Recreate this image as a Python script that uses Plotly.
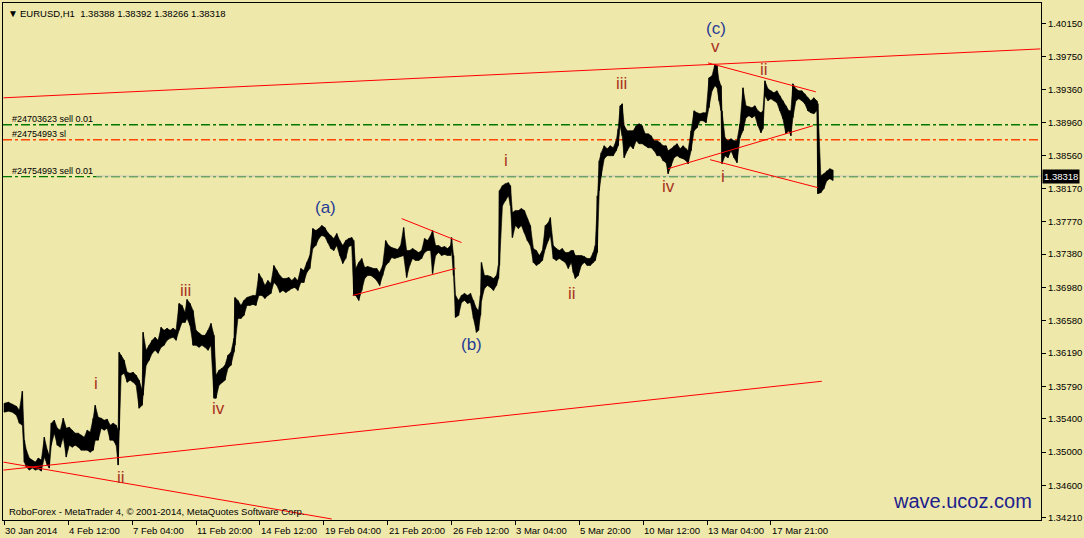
import plotly.graph_objects as go

# ---------------- data ----------------
bar_index = [
    0, 4, 8, 12, 15, 18, 20, 22, 25, 28,
    31, 34, 37, 40, 43, 45, 47, 50, 53, 56,
    59, 62, 65, 68, 71, 74, 77, 80, 83, 86,
    89, 91, 94, 97, 100, 103, 106, 109, 112, 114,
    115, 117, 120, 123, 126, 129, 132, 135, 138, 139,
    142, 145, 148, 151, 154, 157, 160, 163, 166, 169,
    172, 175, 178, 181, 183, 186, 189, 192, 195, 198,
    201, 204, 207, 210, 212, 215, 218, 221, 224, 227,
    230, 231, 234, 237, 240, 243, 246, 249, 252, 255,
    258, 261, 264, 267, 270, 273, 276, 279, 282, 285,
    288, 291, 294, 297, 300, 303, 306, 309, 312, 315,
    318, 321, 324, 327, 330, 333, 336, 339, 342, 345,
    348, 350, 352, 355, 358, 361, 364, 367, 370, 373,
    376, 379, 382, 385, 388, 391, 394, 397, 400, 403,
    406, 409, 412, 415, 418, 421, 424, 427, 429, 432,
    435, 438, 441, 444, 447, 448, 450, 452, 455, 458,
    461, 464, 467, 470, 473, 475, 477, 478, 481, 484,
    487, 490, 493, 495, 496, 499, 502, 505, 507, 509,
    512, 515, 518, 521, 524, 527, 530, 533, 536, 539,
    542, 545, 547, 550, 553, 556, 559, 562, 565, 568,
    570, 572, 575, 578, 581, 584, 587, 590, 592, 594,
    596, 598, 601, 604, 607, 610, 613, 615, 617, 619,
    621, 624, 627, 630, 633, 636, 639, 642, 645, 648,
    651, 654, 657, 660, 663, 665, 668, 671, 674, 677,
    680, 683, 685, 688, 691, 694, 697, 700, 703, 706,
    709, 712, 714, 716, 718, 719, 722, 725, 728, 731,
    734, 737, 740, 743, 746, 749, 752, 755, 758, 760,
    762, 765, 768, 771, 774, 777, 780, 783, 786, 788,
    790, 793, 796, 799, 802, 805, 808, 811, 814, 815,
    818, 821, 824, 827, 830,
]

high = [
    1.35587, 1.35599, 1.35575, 1.35551, 1.35503, 1.35731, 1.35143, 1.35023, 1.34927, 1.34903,
    1.34879, 1.34927, 1.34903, 1.35179, 1.35023, 1.34963, 1.35347, 1.35383, 1.35287, 1.35263,
    1.35407, 1.35287, 1.35299, 1.35263, 1.35227, 1.35227, 1.35203, 1.35179, 1.35263, 1.35239,
    1.35407, 1.35563, 1.35419, 1.35407, 1.35383, 1.35395, 1.35323, 1.35347, 1.35323, 1.35263,
    1.36199, 1.36163, 1.36103, 1.35959, 1.35947, 1.35959, 1.35923, 1.35863, 1.35743, 1.36439,
    1.36223, 1.36283, 1.36343, 1.36379, 1.36343, 1.36499, 1.36463, 1.36487, 1.36463, 1.36487,
    1.36463, 1.36787, 1.36763, 1.36679, 1.36835, 1.36787, 1.36703, 1.36463, 1.36427, 1.36403,
    1.36403, 1.36463, 1.36547, 1.36403, 1.35923, 1.35983, 1.36007, 1.36043, 1.36163, 1.36199,
    1.36367, 1.36859, 1.36823, 1.36763, 1.36823, 1.36859, 1.36871, 1.36883, 1.36883, 1.37147,
    1.37087, 1.37003, 1.37063, 1.37027, 1.37243, 1.37183, 1.37123, 1.37087, 1.37087, 1.37099,
    1.37063, 1.37099, 1.37063, 1.37207, 1.37183, 1.37279, 1.37363, 1.37687, 1.37663, 1.37687,
    1.37723, 1.37699, 1.37639, 1.37603, 1.37567, 1.37627, 1.37543, 1.37483, 1.37543, 1.37567,
    1.37579, 1.37543, 1.37207, 1.37279, 1.37327, 1.37219, 1.37231, 1.37219, 1.37207, 1.37207,
    1.37159, 1.37243, 1.37543, 1.37483, 1.37459, 1.37447, 1.37435, 1.37483, 1.37699, 1.37423,
    1.37423, 1.37447, 1.37423, 1.37399, 1.37423, 1.37567, 1.37543, 1.37603, 1.37663, 1.37483,
    1.37483, 1.37459, 1.37471, 1.37447, 1.37483, 1.37579, 1.37363, 1.36883, 1.36823, 1.36883,
    1.36907, 1.36883, 1.36907, 1.36823, 1.36727, 1.36703, 1.36883, 1.37279, 1.37123, 1.37123,
    1.37111, 1.37087, 1.37123, 1.37243, 1.38143, 1.38203, 1.38227, 1.38239, 1.38203, 1.37879,
    1.37903, 1.37903, 1.37927, 1.37903, 1.37807, 1.37723, 1.37447, 1.37423, 1.37363, 1.37423,
    1.37723, 1.37759, 1.37819, 1.37483, 1.37447, 1.37423, 1.37447, 1.37399, 1.37399, 1.37423,
    1.37423, 1.37363, 1.37363, 1.37363, 1.37351, 1.37327, 1.37327, 1.37399, 1.37483, 1.38083,
    1.38503, 1.38599, 1.38683, 1.38647, 1.38683, 1.38659, 1.38743, 1.38887, 1.39163, 1.39187,
    1.38923, 1.38863, 1.38863, 1.38863, 1.38923, 1.38947, 1.38923, 1.38827, 1.38827, 1.38803,
    1.38743, 1.38743, 1.38719, 1.38683, 1.38683, 1.38623, 1.38647, 1.38683, 1.38707, 1.38647,
    1.38683, 1.38647, 1.38623, 1.38863, 1.39103, 1.39079, 1.39067, 1.39079, 1.39079, 1.39499,
    1.39523, 1.39667, 1.39643, 1.39463, 1.39403, 1.39103, 1.38779, 1.38743, 1.38767, 1.38743,
    1.38743, 1.38947, 1.39379, 1.39163, 1.39151, 1.39139, 1.39163, 1.39103, 1.39079, 1.39103,
    1.39463, 1.39367, 1.39343, 1.39319, 1.39343, 1.39283, 1.39223, 1.39163, 1.39103, 1.39103,
    1.39427, 1.39367, 1.39343, 1.39343, 1.39307, 1.39259, 1.39223, 1.39259, 1.39223, 1.39187,
    1.38323, 1.38347, 1.38383, 1.38407, 1.38392,
]

low = [
    1.35479, 1.35491, 1.35479, 1.35443, 1.35347, 1.35323, 1.34879, 1.34819, 1.34783, 1.34807,
    1.34783, 1.34795, 1.34771, 1.34939, 1.34843, 1.34807, 1.35083, 1.35227, 1.35083, 1.35059,
    1.35179, 1.34939, 1.35083, 1.35059, 1.35083, 1.35059, 1.35023, 1.35023, 1.35023, 1.34999,
    1.35023, 1.35143, 1.35143, 1.35287, 1.35263, 1.35287, 1.35143, 1.35143, 1.35083, 1.34843,
    1.35263, 1.35923, 1.35947, 1.35839, 1.35863, 1.35839, 1.35803, 1.35527, 1.35563, 1.35683,
    1.36043, 1.36103, 1.36187, 1.36223, 1.36187, 1.36259, 1.36283, 1.36343, 1.36367, 1.36379,
    1.36343, 1.36463, 1.36559, 1.36559, 1.36607, 1.36523, 1.36283, 1.36283, 1.36259, 1.36283,
    1.36259, 1.36223, 1.36283, 1.35647, 1.35647, 1.35803, 1.35839, 1.35863, 1.36007, 1.36043,
    1.36199, 1.36283, 1.36607, 1.36607, 1.36643, 1.36763, 1.36763, 1.36775, 1.36763, 1.36883,
    1.36883, 1.36847, 1.36883, 1.36907, 1.37039, 1.37003, 1.36919, 1.36943, 1.36919, 1.36943,
    1.36967, 1.36979, 1.36943, 1.37039, 1.37039, 1.37159, 1.37207, 1.37447, 1.37483, 1.37567,
    1.37603, 1.37591, 1.37519, 1.37447, 1.37423, 1.37483, 1.37363, 1.37267, 1.37327, 1.37471,
    1.37483, 1.36883, 1.36883, 1.36823, 1.36943, 1.37087, 1.37123, 1.37123, 1.37099, 1.37063,
    1.37003, 1.37123, 1.37243, 1.37279, 1.37339, 1.37327, 1.37339, 1.37351, 1.37363, 1.37099,
    1.37243, 1.37327, 1.37303, 1.37303, 1.37327, 1.37399, 1.37423, 1.37423, 1.37147, 1.37363,
    1.37399, 1.37363, 1.37375, 1.37363, 1.37363, 1.37423, 1.37123, 1.36619, 1.36643, 1.36799,
    1.36823, 1.36787, 1.36799, 1.36607, 1.36439, 1.36463, 1.36643, 1.36823, 1.36967, 1.37003,
    1.36979, 1.36943, 1.37003, 1.37087, 1.37243, 1.37963, 1.38023, 1.38083, 1.37963, 1.37579,
    1.37723, 1.37687, 1.37723, 1.37639, 1.37543, 1.37483, 1.37279, 1.37243, 1.37267, 1.37303,
    1.37447, 1.37543, 1.37603, 1.37327, 1.37303, 1.37327, 1.37303, 1.37279, 1.37207, 1.37279,
    1.37159, 1.37087, 1.37123, 1.37243, 1.37279, 1.37243, 1.37243, 1.37279, 1.37303, 1.37399,
    1.38143, 1.38323, 1.38527, 1.38563, 1.38563, 1.38563, 1.38623, 1.38683, 1.38923, 1.38803,
    1.38539, 1.38623, 1.38683, 1.38647, 1.38743, 1.38707, 1.38707, 1.38683, 1.38659, 1.38659,
    1.38623, 1.38563, 1.38563, 1.38503, 1.38479, 1.38347, 1.38443, 1.38539, 1.38563, 1.38539,
    1.38527, 1.38503, 1.38467, 1.38623, 1.38863, 1.38899, 1.38983, 1.38983, 1.38959, 1.39139,
    1.39343, 1.39403, 1.39379, 1.39223, 1.39103, 1.38467, 1.38563, 1.38539, 1.38623, 1.38539,
    1.38479, 1.38779, 1.38863, 1.39019, 1.39043, 1.39019, 1.39043, 1.38923, 1.38839, 1.38887,
    1.39283, 1.39223, 1.39247, 1.39223, 1.39199, 1.39103, 1.39007, 1.38827, 1.38863, 1.38803,
    1.39019, 1.39223, 1.39247, 1.39223, 1.39187, 1.39103, 1.39079, 1.39067, 1.39103, 1.38107,
    1.38119, 1.38167, 1.38263, 1.38287, 1.38266,
]

assert len(bar_index) == len(high) == len(low), (len(bar_index), len(high), len(low))

x_tick_index = [0, 64, 128, 192, 256, 320, 384, 448, 512, 576, 640, 704, 768]
x_tick_labels = ["30 Jan 2014", "4 Feb 12:00", "7 Feb 04:00", "11 Feb 20:00",
                 "14 Feb 12:00", "19 Feb 04:00", "21 Feb 20:00", "26 Feb 12:00",
                 "3 Mar 04:00", "5 Mar 20:00", "10 Mar 12:00", "13 Mar 04:00",
                 "17 Mar 21:00"]

y_tick_values = [1.40150, 1.39750, 1.39360, 1.38960, 1.38560, 1.38170, 1.37770,
                 1.37380, 1.36980, 1.36580, 1.36190, 1.35790, 1.35400, 1.35000,
                 1.34600, 1.34210]

# trend lines: (start bar, start price, end bar, end price)
trend_lines = [
    (-1, 1.39259, 1038, 1.39847),
    (-1, 1.34783, 819, 1.35851),
    (-1, 1.34879, 328, 1.34195),
    (398, 1.37807, 458, 1.37519),
    (349, 1.36883, 452, 1.37207),
    (705, 1.39679, 813, 1.39331),
    (665, 1.38407, 810, 1.38923),
    (707, 1.38515, 815, 1.38179),
]

# wave labels
wave_text = ["i", "ii", "iii", "iv", "(a)", "(b)", "i", "ii", "iii", "iv", "v", "(c)", "ii", "i"]
wave_bar = [92, 117, 181, 215, 322, 468, 503, 569, 618, 665, 712, 713, 761, 720]
wave_price = [1.35827, 1.34699, 1.36943, 1.35527, 1.37939, 1.36295, 1.38503,
              1.36907, 1.39427, 1.38191, 1.39871, 1.40087, 1.39595, 1.38311]

# order lines
order_labels = ["#24703623 sell 0.01", "#24754993 sl", "#24754993 sell 0.01"]
order_prices = [1.38935, 1.38755, 1.38311]
order_colors = ["#007800", "#FF4500", "#007800"]

bid_price = 1.38318
header_values = [1.38388, 1.38392, 1.38266, 1.38318]

# ---------------- figure ----------------
BG = "#EEE8AA"
FONT = "Liberation Sans, Arial, sans-serif"
BROWN = "#A8321E"
BLUE = "#283C96"

fig = go.Figure()

# order lines (drawn under the price band)
for lbl, pr, col in zip(order_labels, order_prices, order_colors):
    fig.add_shape(type="line", xref="paper", x0=0, x1=1, yref="y", y0=pr, y1=pr,
                  line=dict(color=col, width=1.3, dash="dashdot"), layer="below")
    fig.add_annotation(xref="paper", x=0, xanchor="left", xshift=7,
                       yref="y", y=pr, yanchor="bottom", yshift=-1,
                       text=lbl, showarrow=False,
                       font=dict(family=FONT, size=9, color="#000000"))

# bid line
fig.add_shape(type="line", xref="x", x0=92, x1=1040, yref="y", y0=bid_price, y1=bid_price,
              line=dict(color="#C0C0C0", width=1), layer="below")

# price band (high-low range of the hourly bars)
fig.add_trace(go.Scatter(x=bar_index, y=low, mode="lines",
                         line=dict(color="#000000", width=0.6), hoverinfo="skip",
                         showlegend=False))
fig.add_trace(go.Scatter(x=bar_index, y=high, mode="lines", fill="tonexty",
                         fillcolor="#000000",
                         line=dict(color="#000000", width=0.6), hoverinfo="skip",
                         showlegend=False))
# individual high-low strokes for a bar-like, jagged look
seg_x, seg_y = [], []
for b, h, l in zip(bar_index, high, low):
    seg_x += [b, b, None]
    seg_y += [l, h, None]
fig.add_trace(go.Scatter(x=seg_x, y=seg_y, mode="lines",
                         line=dict(color="#000000", width=1.4), hoverinfo="skip",
                         showlegend=False))

# trend lines
for (b0, p0, b1, p1) in trend_lines:
    fig.add_trace(go.Scatter(x=[b0, b1], y=[p0, p1], mode="lines",
                             line=dict(color="#FF0000", width=1),
                             hoverinfo="skip", showlegend=False))

# wave labels
for t, b, p in zip(wave_text, wave_bar, wave_price):
    col = BLUE if t.startswith("(") else BROWN
    fig.add_annotation(x=b, y=p, text=t, showarrow=False,
                       font=dict(family=FONT, size=17, color=col))

# x tick labels (left aligned next to the tick mark)
for b, lbl in zip(x_tick_index, x_tick_labels):
    fig.add_annotation(x=b, xref="x", xanchor="left", xshift=-1,
                       y=0, yref="paper", yanchor="top", yshift=-3,
                       text=lbl, showarrow=False,
                       font=dict(family=FONT, size=9.5, color="#000000"))

# bid price box on the axis
fig.add_annotation(xref="paper", x=1, xanchor="left", xshift=1,
                   yref="y", y=bid_price, text=f"{bid_price:.5f}", showarrow=False,
                   bgcolor="#000000", borderpad=1,
                   font=dict(family=FONT, size=9.5, color="#FFFFFF"))

# header
hdr = "EURUSD,H1\u00a0\u00a0" + " ".join(f"{v:.5f}" for v in header_values)
fig.add_annotation(xref="paper", x=0, xanchor="left", xshift=3,
                   yref="paper", y=1, yanchor="top", yshift=-3,
                   text="\u25BC", showarrow=False,
                   font=dict(family=FONT, size=10, color="#000000"))
fig.add_annotation(xref="paper", x=0, xanchor="left", xshift=15,
                   yref="paper", y=1, yanchor="top", yshift=-3,
                   text=hdr, showarrow=False,
                   font=dict(family=FONT, size=9.5, color="#000000"))

# footer texts
fig.add_annotation(xref="paper", x=0, xanchor="left", xshift=4,
                   yref="paper", y=0, yanchor="bottom", yshift=1,
                   text="RoboForex - MetaTrader 4, \u00a9 2001-2014, MetaQuotes Software Corp.",
                   showarrow=False, font=dict(family=FONT, size=9.5, color="#000000"))
fig.add_annotation(xref="paper", x=1, xanchor="right", xshift=-7,
                   yref="paper", y=0, yanchor="bottom", yshift=6,
                   text="wave.ucoz.com", showarrow=False,
                   font=dict(family=FONT, size=20, color="#1E1E8C"))

fig.update_layout(
    width=1084, height=538,
    margin=dict(l=2, r=42, t=2, b=18),
    paper_bgcolor=BG, plot_bgcolor=BG,
    showlegend=False,
    xaxis=dict(range=[-1.4, 1038.6], showgrid=False, zeroline=False,
               showline=True, mirror=True, linecolor="#000000", linewidth=1,
               ticks="outside", ticklen=4, tickcolor="#000000",
               tickvals=x_tick_index, showticklabels=False, fixedrange=True),
    yaxis=dict(range=[1.34183, 1.40399], side="right", showgrid=False, zeroline=False,
               showline=True, mirror=True, linecolor="#000000", linewidth=1,
               ticks="outside", ticklen=4, tickcolor="#000000",
               tickvals=y_tick_values, ticktext=[f"{v:.5f}" for v in y_tick_values],
               tickfont=dict(family=FONT, size=9.5, color="#000000"), fixedrange=True),
)

fig.write_html("out.html", config={"displayModeBar": False},
               post_script="document.body.style.margin='0';")
